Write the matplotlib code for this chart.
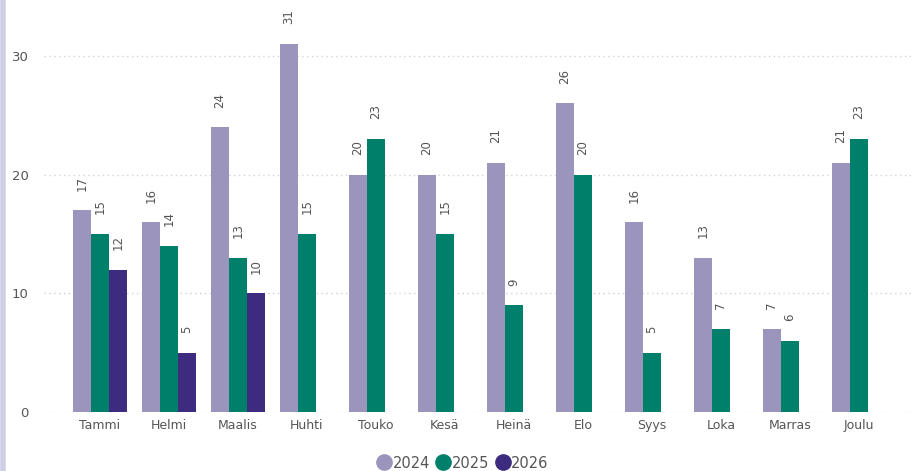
import numpy as np
import matplotlib
matplotlib.use("Agg")
import matplotlib.pyplot as plt
from matplotlib.lines import Line2D

months = ["Tammi", "Helmi", "Maalis", "Huhti", "Touko", "Kesä",
          "Heinä", "Elo", "Syys", "Loka", "Marras", "Joulu"]
v2024 = [17, 16, 24, 31, 20, 20, 21, 26, 16, 13, 7, 21]
v2025 = [15, 14, 13, 15, 23, 15, 9, 20, 5, 7, 6, 23]
v2026 = [12, 5, 10, None, None, None, None, None, None, None, None, None]
series_names = ["2024", "2025", "2026"]
colors = ["#9b95bd", "#00806b", "#3c2b7e"]

fig = plt.figure(figsize=(9.12, 4.71), dpi=100)
ax = fig.add_axes([44 / 912, 1 - 412 / 471, 1 - 44 / 912, 412 / 471])

x = np.arange(len(months))
w = 0.262
text_color = "#555555"
for i, (vals, c) in enumerate(zip([v2024, v2025, v2026], colors)):
    arr = np.array([np.nan if v is None else v for v in vals], dtype=float)
    pos = x + (i - 1) * w
    mask = ~np.isnan(arr)
    ax.bar(pos[mask], arr[mask], width=w, color=c, zorder=3)
    for p, v in zip(pos[mask], arr[mask]):
        ax.annotate(f"{int(v)}", xy=(p, v), xytext=(0, 14), textcoords="offset points",
                    rotation=90, ha="center", va="bottom", fontsize=8.5, color=text_color)

ax.set_ylim(0, 34.7)
ax.set_xlim(-0.81, 11.77)
ax.set_yticks([0, 10, 20, 30])
ax.set_xticks(x)
ax.set_xticklabels(months)
ax.tick_params(axis="both", length=0, labelsize=9, colors=text_color)
ax.tick_params(axis="y", pad=11, labelsize=9.5)
ax.tick_params(axis="x", pad=5)
for s in ax.spines.values():
    s.set_visible(False)
ax.yaxis.grid(True, linestyle=(0, (1, 2.5)), color="#d2d2d2", linewidth=1, zorder=0)
ax.set_axisbelow(True)

# left border line
fig.add_artist(Line2D([3.5 / 912, 3.5 / 912], [0, 1], transform=fig.transFigure,
                      color="#cfcee4", linewidth=4))

handles = [Line2D([0], [0], marker="o", linestyle="", markersize=11,
                  markerfacecolor=c, markeredgecolor=c) for c in colors]
fig.legend(handles, series_names, loc="center", bbox_to_anchor=(462 / 912, 1 - 463 / 471),
           ncol=3, frameon=False, fontsize=10.5, handletextpad=0.0, columnspacing=0.3,
           labelcolor=text_color, handlelength=1.2)

fig.savefig("out.png", dpi=100)
